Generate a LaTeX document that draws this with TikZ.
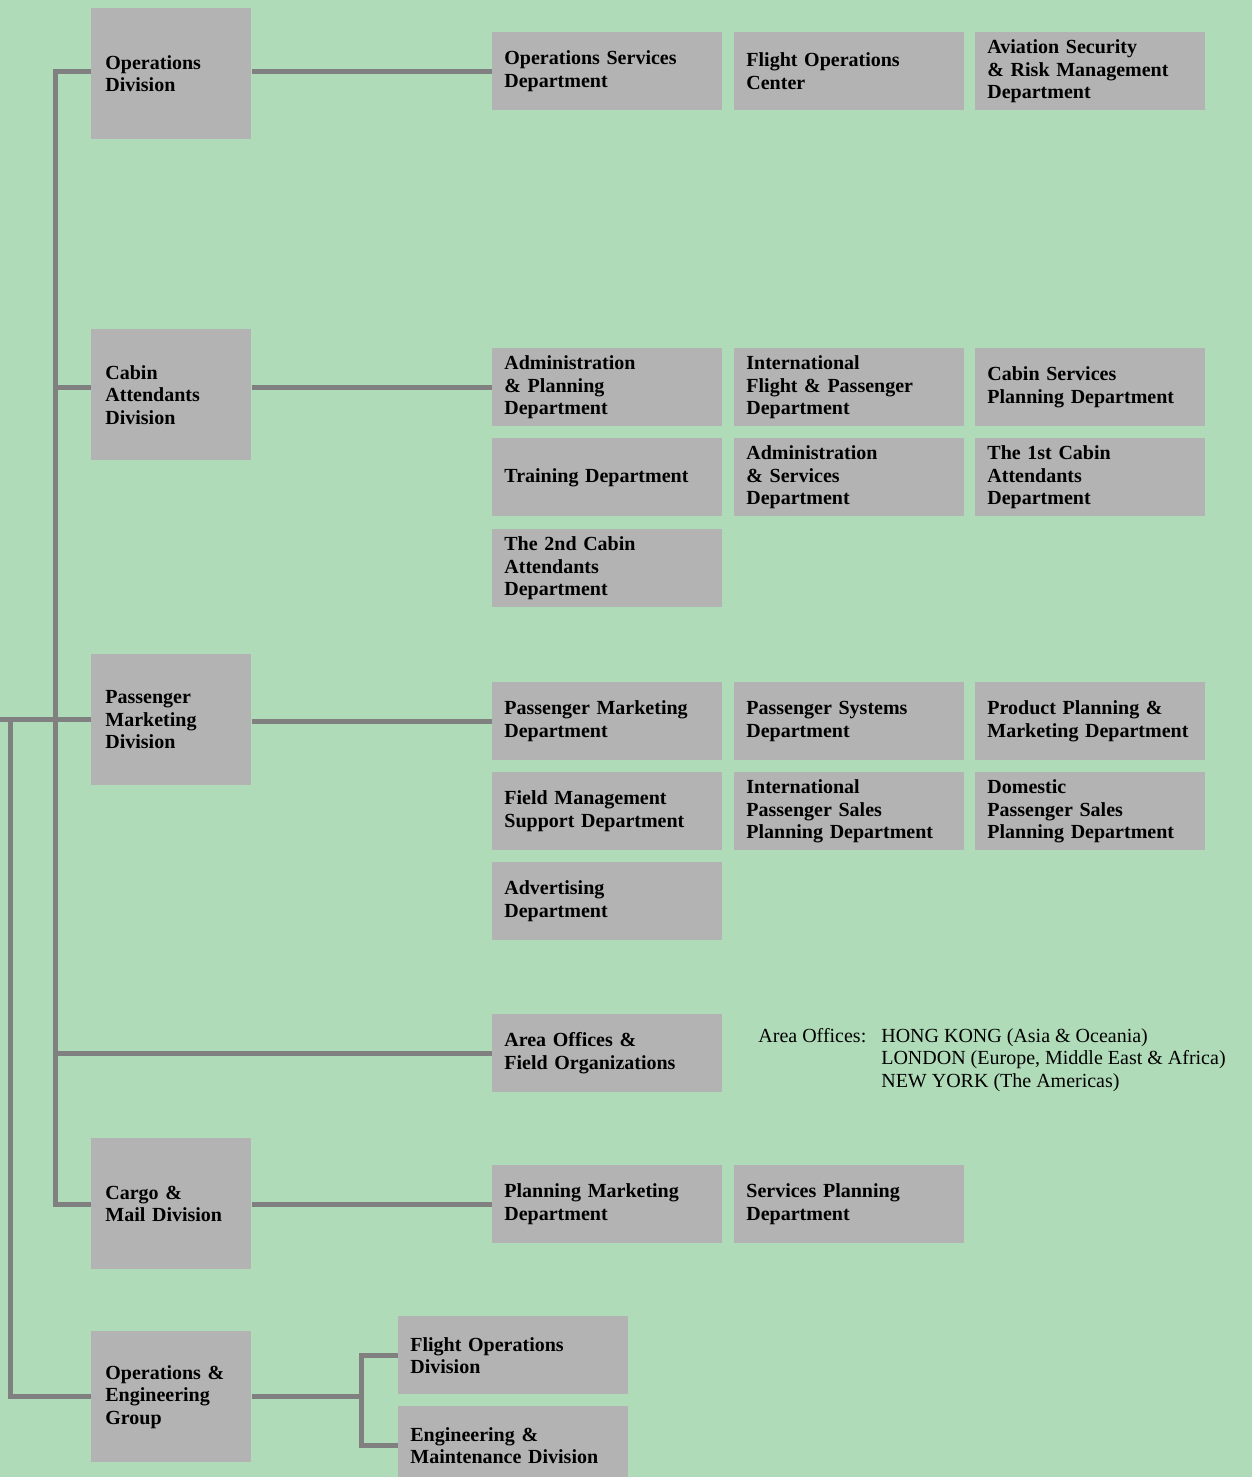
\documentclass[tikz,border=0pt]{standalone}
\usepackage{fontspec}
\setmainfont{Liberation Serif}
\definecolor{bggreen}{RGB}{176,219,184}
\definecolor{boxgray}{RGB}{179,179,179}
\definecolor{linegray}{RGB}{128,128,128}
\tikzset{
  orgfont/.style={font=\bfseries\fontsize{10}{11.25}\selectfont},
  divbox/.style={orgfont, fill=boxgray, anchor=north west, minimum width=80pt,
    minimum height=65.5pt, text width=66pt, inner xsep=7pt, align=left},
  deptbox/.style={orgfont, fill=boxgray, anchor=north west, minimum width=115pt,
    minimum height=39pt, text width=103pt, inner xsep=6pt, align=left},
  link/.style={draw=linegray, line width=2.5pt}
}
\begin{document}
\begin{tikzpicture}[x=0.5pt,y=-0.5pt]
\path[use as bounding box, fill=bggreen] (0,0) rectangle (1252,1477);
\clip (0,0) rectangle (1252,1477);
% divisions
\node[divbox] (opsdiv) at (91,8) {Operations\\Division};
\node[divbox] (cabdiv) at (91,329) {Cabin\\Attendants\\Division};
\node[divbox] (pasdiv) at (91,654) {Passenger\\Marketing\\Division};
\node[divbox] (cargodiv) at (91,1138) {Cargo \&\\Mail Division};
\node[divbox] (oegrp) at (91,1331) {Operations \&\\Engineering\\Group};
% departments
\foreach \n/\x/\y/\t in {
  opssvc/492/32/{Operations Services\\Department},
  fltctr/734/32/{Flight Operations\\Center},
  avsec/975/32/{Aviation Security\\\& Risk Management\\Department},
  admplan/492/348/{Administration\\\& Planning\\Department},
  intlflt/734/348/{International\\Flight \& Passenger\\Department},
  cabsvc/975/348/{Cabin Services\\Planning Department},
  training/492/438/{Training Department},
  admsvc/734/438/{Administration\\\& Services\\Department},
  cabfirst/975/438/{The 1st Cabin\\Attendants\\Department},
  cabsecond/492/529/{The 2nd Cabin\\Attendants\\Department},
  pasmkt/492/682/{Passenger Marketing\\Department},
  passys/734/682/{Passenger Systems\\Department},
  prodplan/975/682/{Product Planning \&\\Marketing Department},
  fieldmgmt/492/772/{Field Management\\Support Department},
  intlsales/734/772/{International\\Passenger Sales\\Planning Department},
  domsales/975/772/{Domestic\\Passenger Sales\\Planning Department},
  advert/492/862/{Advertising\\Department},
  areaoff/492/1014/{Area Offices \&\\Field Organizations},
  planmkt/492/1165/{Planning Marketing\\Department},
  svcplan/734/1165/{Services Planning\\Department},
  flops/398/1316/{Flight Operations\\Division},
  engmnt/398/1406/{Engineering \&\\Maintenance Division}}
  {\node[deptbox] (\n) at (\x,\y) {\t};}
% area offices note
\node[anchor=north west, inner sep=0pt, font=\fontsize{10}{11.25}\selectfont] (areanote) at (758,1026)
  {\begin{tabular}{@{}l@{\hspace{7.5pt}}l@{}}
   Area Offices: & HONG KONG (Asia \& Oceania)\\
                 & LONDON (Europe, Middle East \& Africa)\\
                 & NEW YORK (The Americas)
   \end{tabular}};
% connectors
\coordinate (trunk) at (55,0);
\coordinate (outer) at (10,0);
\coordinate (edge) at (0,0);
\coordinate (fork) at (361,0);
\draw[link] (opsdiv.west |- opssvc.west) -| (trunk |- planmkt.west) -- (cargodiv.west |- planmkt.west);
\draw[link] (cabdiv.west |- admplan.west) -- (trunk |- admplan.west);
\draw[link] (pasdiv.west) -- (pasdiv.west -| edge);
\draw[link] (areaoff.west) -- (areaoff.west -| trunk);
\draw[link] (pasdiv.west -| outer) |- (oegrp.west);
\draw[link] (opsdiv.east |- opssvc.west) -- (opssvc.west);
\draw[link] (cabdiv.east |- admplan.west) -- (admplan.west);
\draw[link] (pasdiv.east |- pasmkt.west) -- (pasmkt.west);
\draw[link] (cargodiv.east |- planmkt.west) -- (planmkt.west);
\draw[link] (oegrp.east) -- (oegrp.east -| fork);
\draw[link] (flops.west) -| (engmnt.west -| fork) -- (engmnt.west);
\end{tikzpicture}
\end{document}
